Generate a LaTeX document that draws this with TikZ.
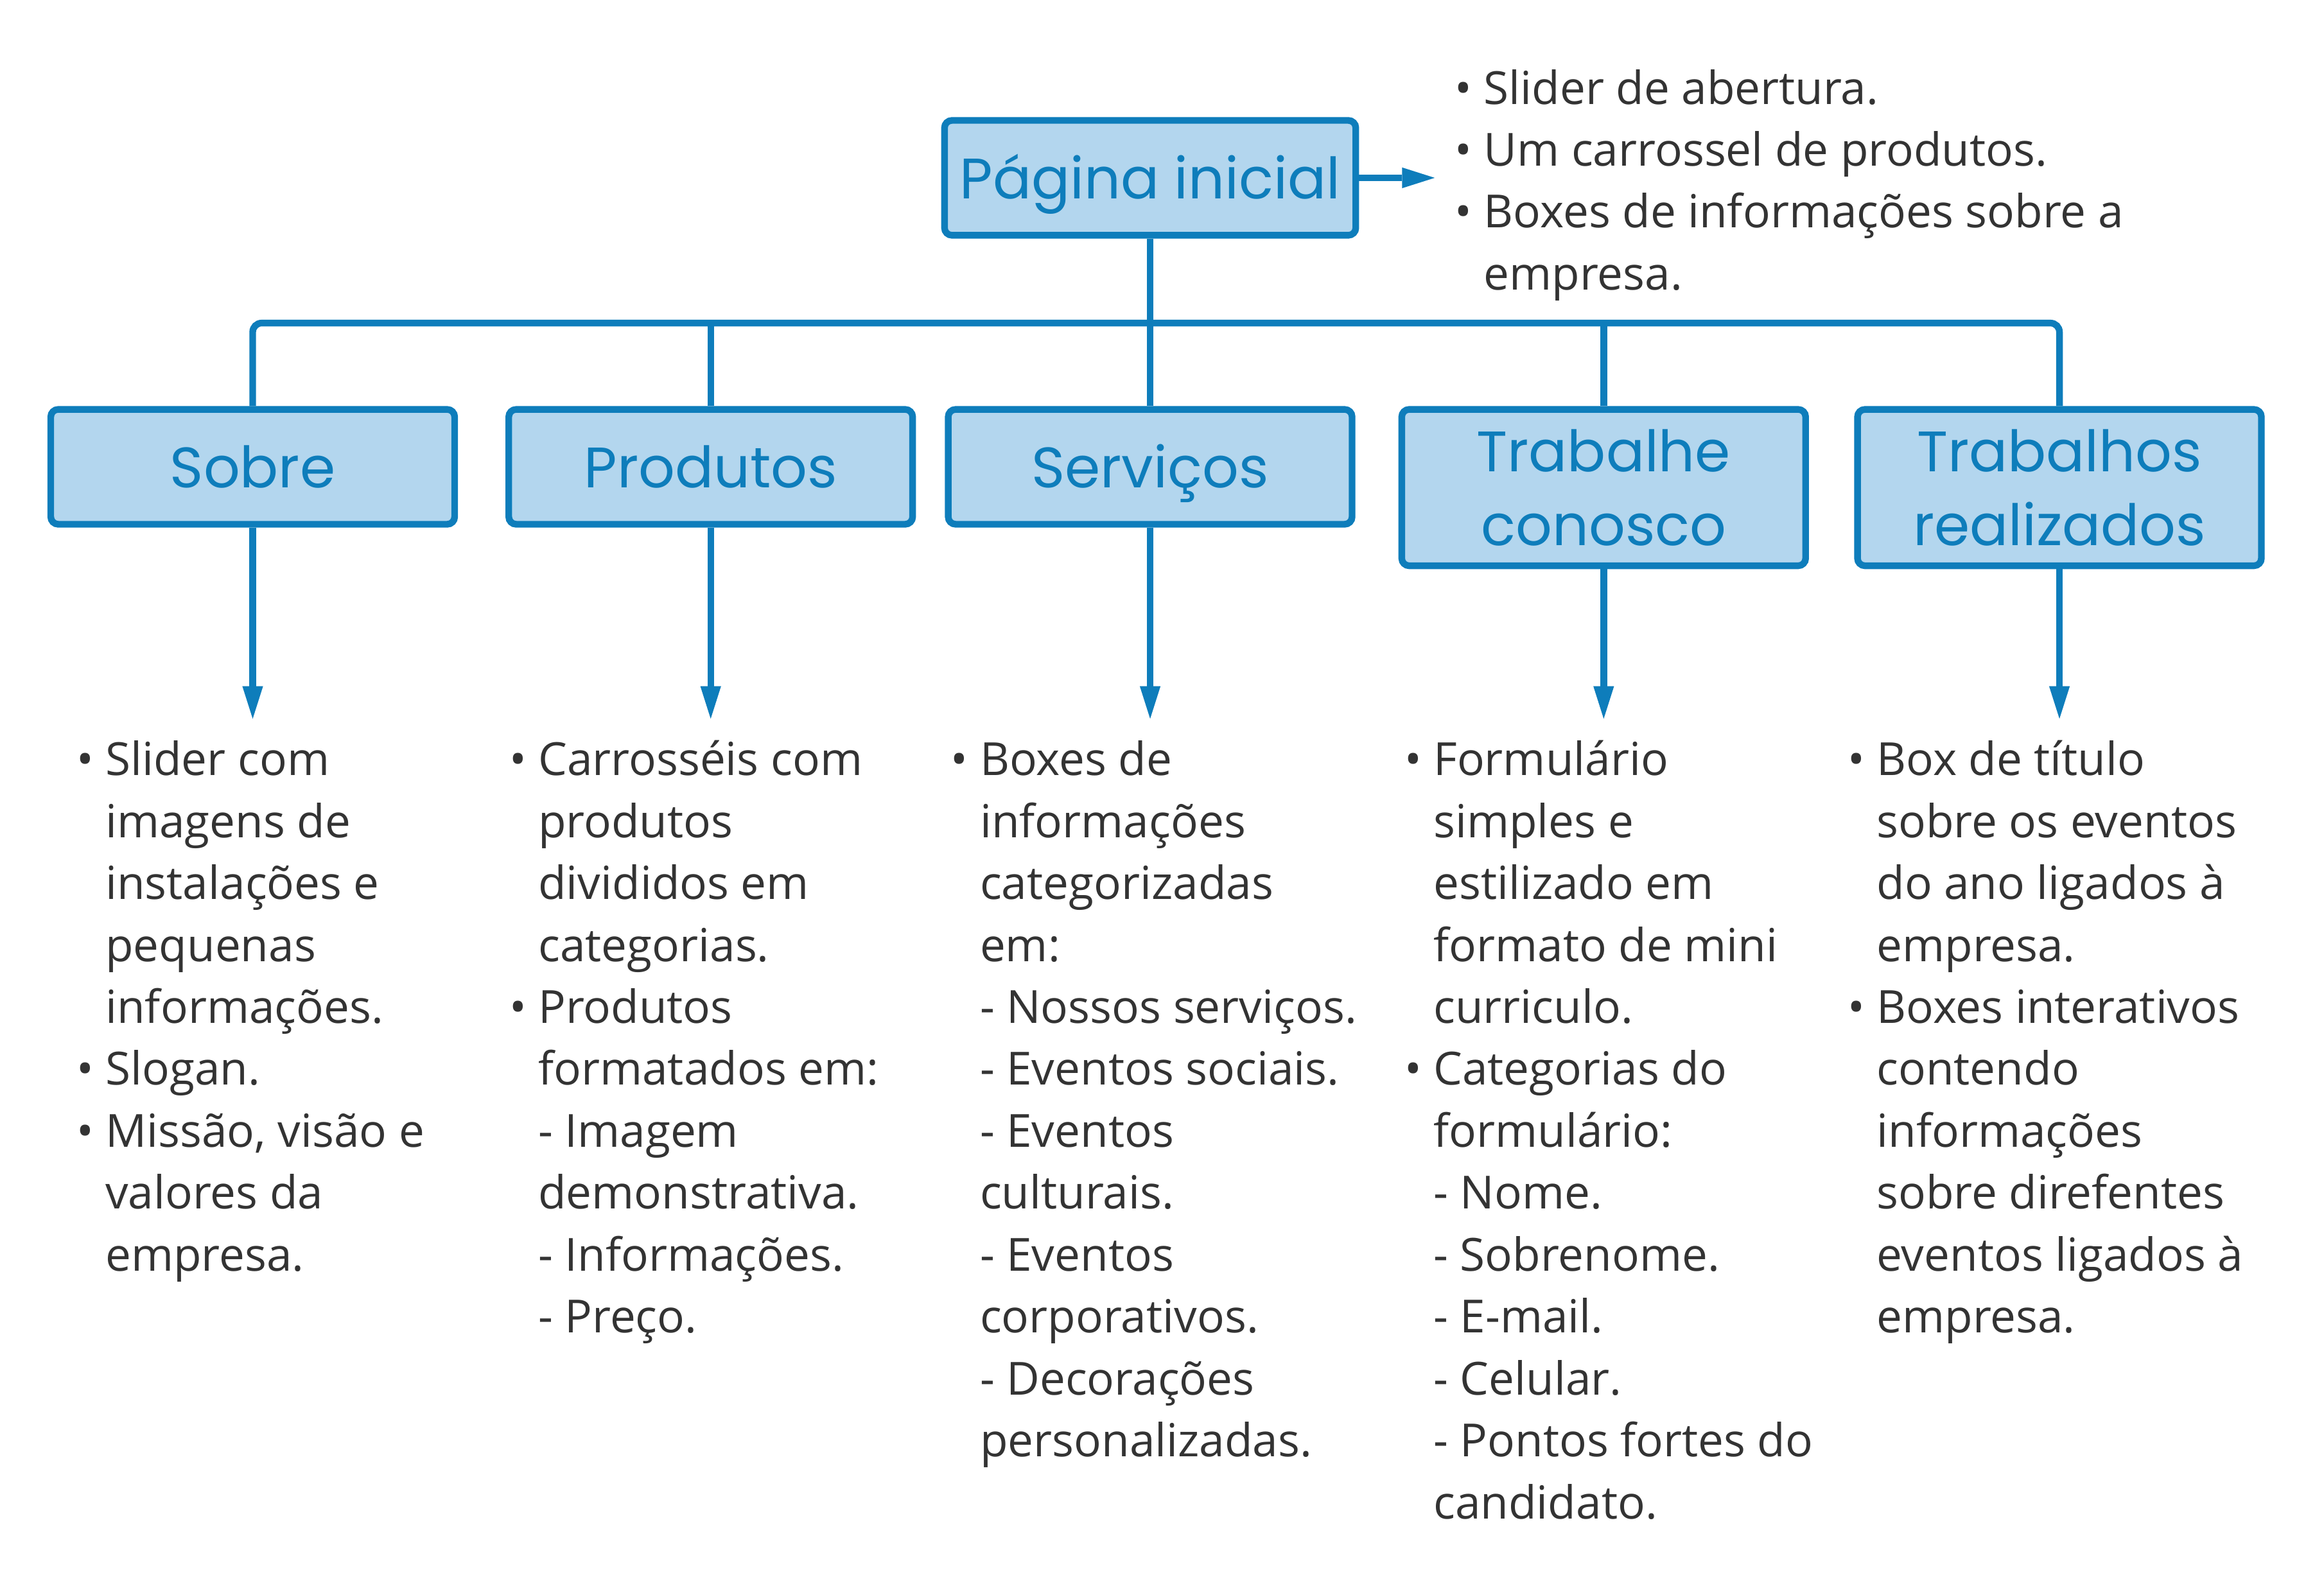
\documentclass[tikz,border=0pt]{standalone}
\usepackage{fontspec}
\setmainfont{Open Sans}
\newfontfamily\boxfont{Poppins}
\usetikzlibrary{arrows.meta}
\definecolor{mapblue}{RGB}{14,125,187}
\definecolor{mapfill}{RGB}{179,214,238}
\definecolor{maptext}{RGB}{51,51,51}
\newlength{\bulw}\setlength{\bulw}{19.6pt}
\newcommand{\bl}{\makebox[\bulw][l]{\textbullet}}
\newcommand{\ind}{\hspace*{\bulw}}
\newcommand{\pagebox}[4]{%
 \node[pagebox,#3] ({#1}) at ({#2}) {#4};%
}
\newcommand{\pagelist}[3]{%
 \node[pagelist] ({#1}) at ({#2}) {\rule{0pt}{30pt}#3};%
}

\begin{document}
\begin{tikzpicture}[x=1pt,y=1pt,
  pagebox/.style={draw=mapblue,fill=mapfill,line width=4.5pt,rounded corners=5pt,
    minimum width=272.5pt,align=center,inner sep=0pt,text=mapblue,text depth=0pt,
    font=\boxfont\fontsize{38.5}{50}\selectfont},
  oneline/.style={minimum height=77.5pt,text height=28pt},
  twoline/.style={minimum height=105.5pt},
  pagelist/.style={anchor=north west,align=left,inner sep=0pt,text=maptext,
    font=\fontsize{30.8}{41.8}\selectfont},
  link/.style={draw=mapblue,line width=4.5pt},
  linkarrow/.style={link,-{Triangle[length=22pt,width=14pt,line width=0pt]}}]
  \useasboundingbox (0,0) rectangle (1568,-1070);
  \pagebox{home}{776,-120}{oneline,minimum width=277.5pt}{Página inicial};
  \pagebox{sobre}{170.5,-315}{oneline}{Sobre};
  \pagebox{produtos}{479.5,-315}{oneline}{Produtos};
  \pagebox{servicos}{776,-315}{oneline}{Serviços};
  \pagebox{trabalhe}{1082,-329}{twoline}{Trabalhe\\conosco};
  \pagebox{trabalhos}{1389.5,-329}{twoline}{Trabalhos\\realizados};
  \coordinate (bus) at (776,-218);
  \coordinate (home-tip) at (968,-120);
  \draw[linkarrow] (home.east) -- (home-tip);
  \draw[link] (home.south) -- (bus);
  \draw[link,rounded corners=6pt] (sobre.north) |- (bus) -| (trabalhos.north);
  \foreach \n in {produtos,servicos,trabalhe}
    \draw[link] (\n.north) -- (\n.north |- bus);
  \foreach \n in {sobre,produtos,servicos,trabalhe,trabalhos} {
    \coordinate (\n-tip) at (\n.south |- 0,-485);
    \draw[linkarrow] (\n.south) -- (\n-tip);
  }
  \pagelist{home-list}{981.4,-40}{\bl Slider de abertura.\\
    \bl Um carrossel de produtos.\\
    \bl Boxes de informações sobre a\\
    \ind empresa.};
  \pagelist{sobre-list}{51.4,-493}{\bl Slider com\\
    \ind imagens de\\
    \ind instalações e\\
    \ind pequenas\\
    \ind informações.\\
    \bl Slogan.\\
    \bl Missão, visão e\\
    \ind valores da\\
    \ind empresa.};
  \pagelist{produtos-list}{343.4,-493}{\bl Carrosséis com\\
    \ind produtos\\
    \ind divididos em\\
    \ind categorias.\\
    \bl Produtos\\
    \ind formatados em:\\
    \ind - Imagem\\
    \ind demonstrativa.\\
    \ind - Informações.\\
    \ind - Preço.};
  \pagelist{servicos-list}{641.4,-493}{\bl Boxes de\\
    \ind informações\\
    \ind categorizadas\\
    \ind em:\\
    \ind - Nossos serviços.\\
    \ind - Eventos sociais.\\
    \ind - Eventos\\
    \ind culturais.\\
    \ind - Eventos\\
    \ind corporativos.\\
    \ind - Decorações\\
    \ind personalizadas.};
  \pagelist{trabalhe-list}{947.4,-493}{\bl Formulário\\
    \ind simples e\\
    \ind estilizado em\\
    \ind formato de mini\\
    \ind curriculo.\\
    \bl Categorias do\\
    \ind formulário:\\
    \ind - Nome.\\
    \ind - Sobrenome.\\
    \ind - E-mail.\\
    \ind - Celular.\\
    \ind - Pontos fortes do\\
    \ind candidato.};
  \pagelist{trabalhos-list}{1246.4,-493}{\bl Box de título\\
    \ind sobre os eventos\\
    \ind do ano ligados à\\
    \ind empresa.\\
    \bl Boxes interativos\\
    \ind contendo\\
    \ind informações\\
    \ind sobre direfentes\\
    \ind eventos ligados à\\
    \ind empresa.};
\end{tikzpicture}
\end{document}
